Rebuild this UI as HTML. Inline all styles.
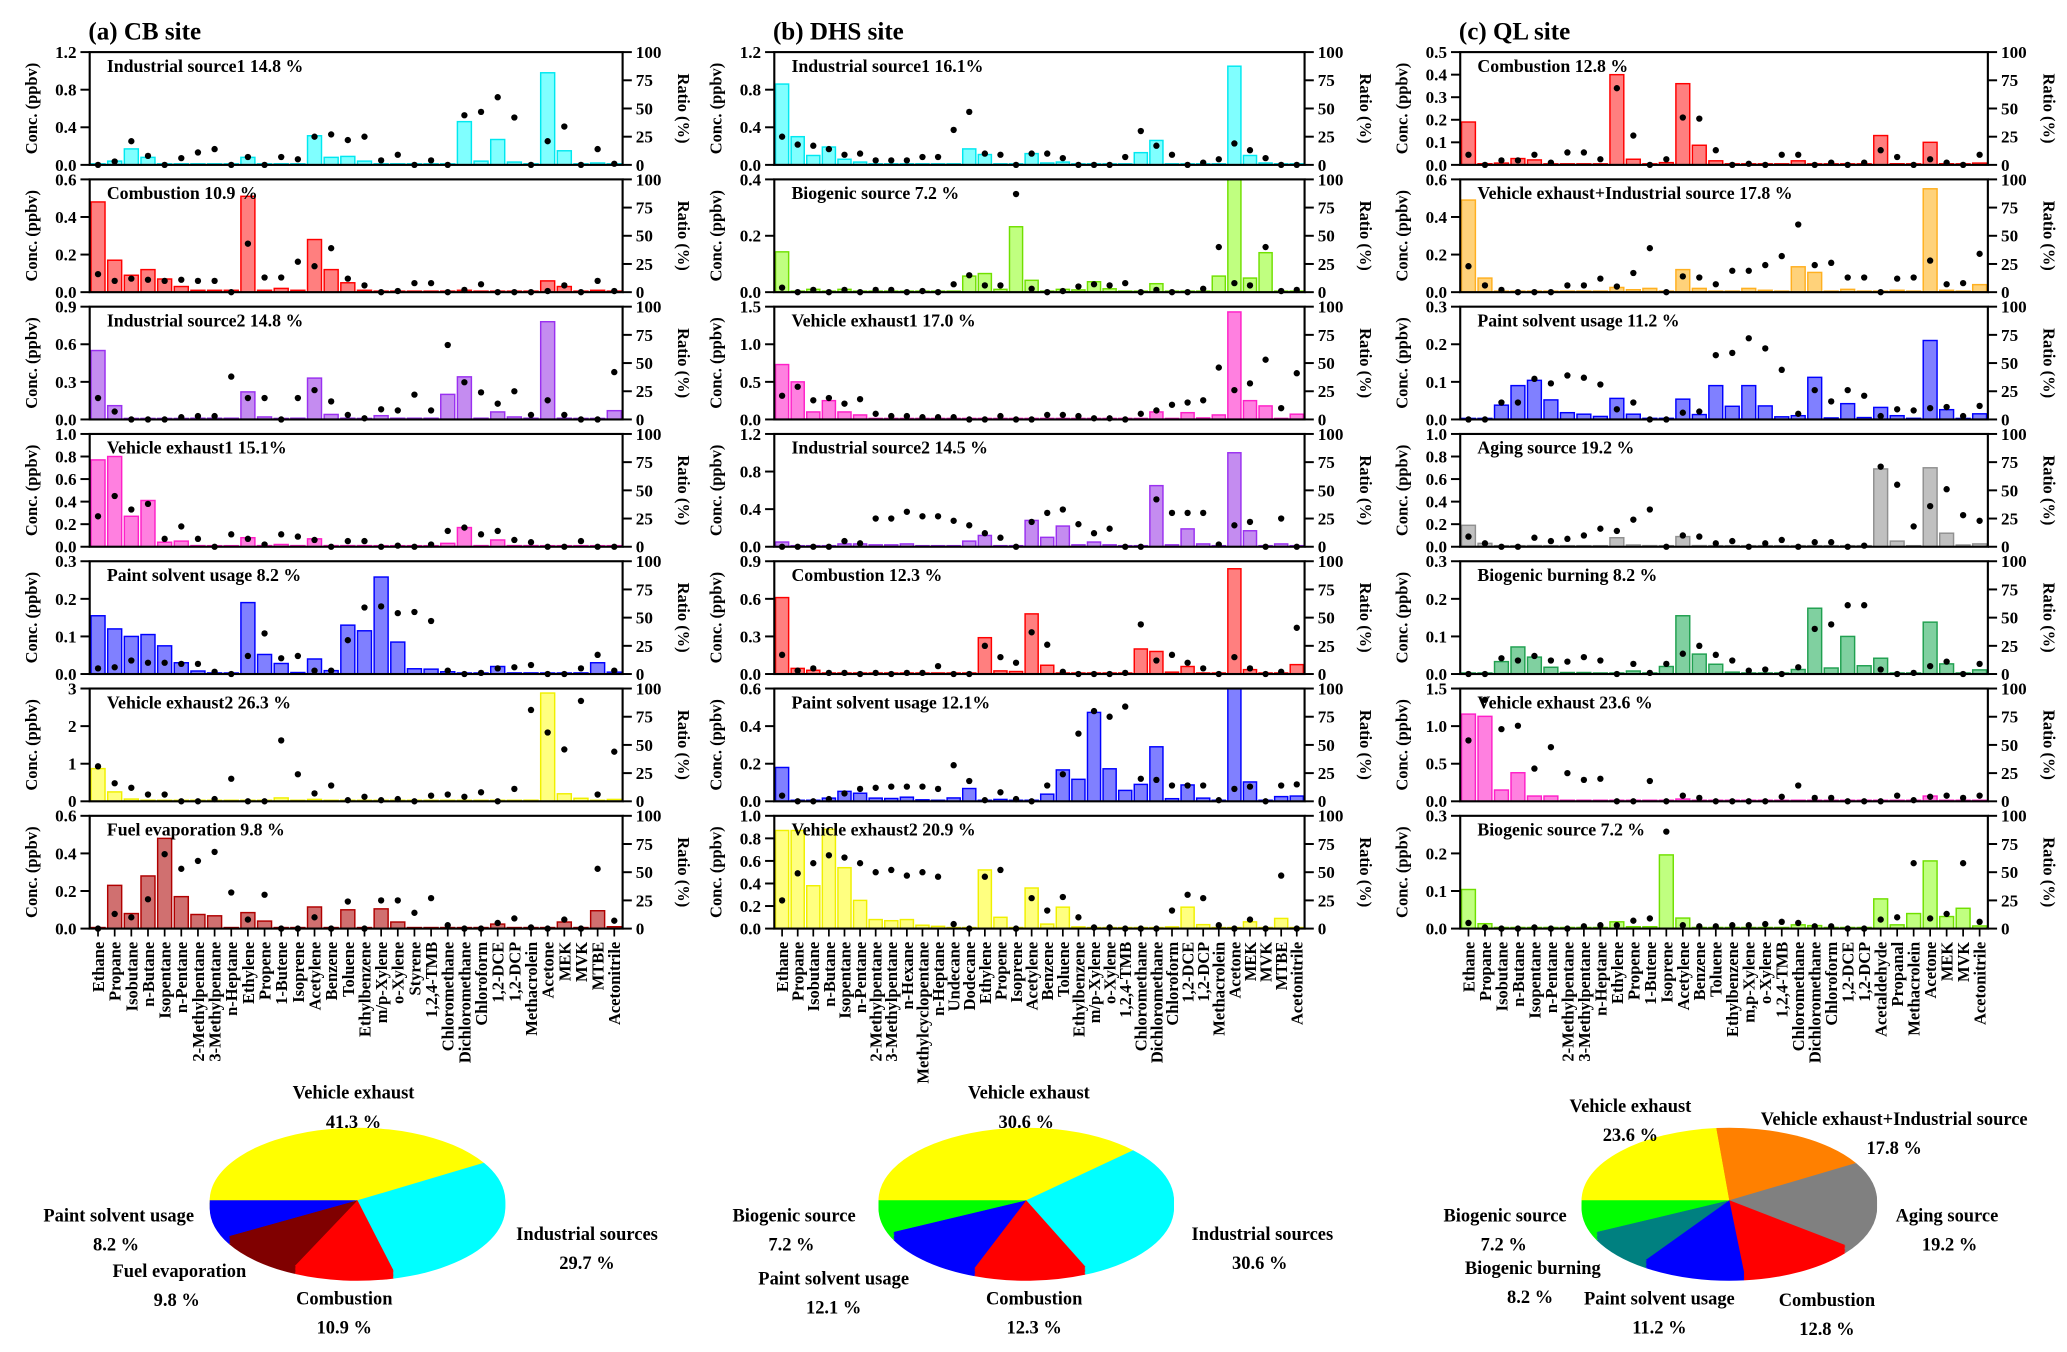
<!DOCTYPE html>
<html><head><meta charset="utf-8">
<style>
html,body{margin:0;padding:0;background:#fff;}
svg{display:block;font-family:"Liberation Serif","Times New Roman",serif;font-weight:bold;}
svg text{font-family:"Liberation Serif","Times New Roman",serif;font-weight:bold;}
</style></head>
<body>
<svg id="chart" width="2067" height="1352" viewBox="0 0 1567 1025" preserveAspectRatio="none" xmlns="http://www.w3.org/2000/svg" font-family="Liberation Serif, serif" font-weight="bold"></svg>
<script>
// ---------- categories ----------
const catsA = ["Ethane","Propane","Isobutane","n-Butane","Isopentane","n-Pentane","2-Methylpentane","3-Methylpentane","n-Heptane","Ethylene","Propene","1-Butene","Isoprene","Acetylene","Benzene","Toluene","Ethylbenzene","m/p-Xylene","o-Xylene","Styrene","1,2,4-TMB","Chloromethane","Dichloromethane","Chloroform","1,2-DCE","1,2-DCP","Methacrolein","Acetone","MEK","MVK","MTBE","Acetonitrile"];
const catsB = ["Ethane","Propane","Isobutane","n-Butane","Isopentane","n-Pentane","2-Methylpentane","3-Methylpentane","n-Hexane","Methylcyclopentane","n-Heptane","Undecane","Dodecane","Ethylene","Propene","Isoprene","Acetylene","Benzene","Toluene","Ethylbenzene","m/p-Xylene","o-Xylene","1,2,4-TMB","Chloromethane","Dichloromethane","Chloroform","1,2-DCE","1,2-DCP","Methacrolein","Acetone","MEK","MVK","MTBE","Acetonitrile"];
const catsC = ["Ethane","Propane","Isobutane","n-Butane","Isopentane","n-Pentane","2-Methylpentane","3-Methylpentane","n-Heptane","Ethylene","Propene","1-Butene","Isoprene","Acetylene","Benzene","Toluene","Ethylbenzene","m,p-Xylene","o-Xylene","1,2,4-TMB","Chloromethane","Dichloromethane","Chloroform","1,2-DCE","1,2-DCP","Acetaldehyde","Propanal","Methacrolein","Acetone","MEK","MVK","Acetonitrile"];

// ---------- site A series ----------
const a1Conc = [0.01,0.04,0.17,0.08,0.01,0.01,0.01,0.01,0.01,0.08,0.01,0.01,0.01,0.31,0.08,0.09,0.04,0.01,0.01,0.01,0.01,0.01,0.46,0.04,0.27,0.03,0.01,0.98,0.15,0.01,0.02,0.01];
const a1Ratio = [0,3,21,8,0,6,11,14,0,7,0,7,5,25,27,22,25,4,9,0,4,0,44,47,60,42,0,21,34,0,14,1];
const a2Conc = [0.48,0.17,0.09,0.12,0.07,0.03,0.01,0.01,0.01,0.51,0.01,0.02,0.01,0.28,0.12,0.05,0.01,0.002,0.002,0.002,0.002,0.002,0.01,0.002,0.002,0.002,0.002,0.06,0.03,0.002,0.01,0.002];
const a2Ratio = [16,10,12,11,10,11,10,10,0,43,13,13,27,23,39,12,6,0,1,8,8,0,2,7,0,0,0,1,6,0,10,1];
const a3Conc = [0.55,0.11,0.003,0.003,0.003,0.003,0.01,0.01,0.01,0.22,0.02,0.003,0.01,0.33,0.04,0.01,0.003,0.03,0.01,0.01,0.01,0.2,0.34,0.01,0.06,0.02,0.01,0.78,0.01,0.003,0.003,0.07];
const a3Ratio = [19,7,0,0,0,2,3,3,38,19,19,0,19,26,16,4,1,9,8,22,8,66,33,24,14,25,4,17,4,0,0,42];
const a4Conc = [0.77,0.8,0.27,0.41,0.04,0.05,0.01,0.003,0.003,0.08,0.01,0.02,0.01,0.07,0.01,0.01,0.01,0.003,0.003,0.003,0.003,0.03,0.17,0.01,0.06,0.01,0.01,0.003,0.003,0.003,0.003,0.003];
const a4Ratio = [27,45,33,38,7,18,7,0,11,7,2,11,9,6,0,5,5,0,1,0,2,14,17,11,14,6,4,0,0,5,0,0];
const a5Conc = [0.155,0.12,0.1,0.105,0.075,0.03,0.008,0.003,0.001,0.19,0.052,0.028,0.004,0.04,0.009,0.13,0.115,0.258,0.085,0.014,0.013,0.006,0.002,0.002,0.02,0.003,0.003,0.001,0.001,0.003,0.03,0.005];
const a5Ratio = [5,6,12,10,10,9,9,2,0,16,36,14,16,3,3,30,59,60,54,55,47,3,0,1,5,6,8,0,0,5,17,3];
const a6Conc = [0.87,0.25,0.06,0.03,0.01,0.01,0.01,0.01,0.01,0.01,0.01,0.09,0.01,0.05,0.01,0.01,0.01,0.01,0.01,0.01,0.01,0.01,0.01,0.01,0.01,0.01,0.03,2.88,0.2,0.08,0.01,0.05];
const a6Ratio = [31,16,12,6,6,0,0,2,20,0,0,54,24,7,14,1,4,1,2,0,5,6,4,8,0,11,81,61,46,89,6,44];
const a7Conc = [0.005,0.23,0.08,0.28,0.48,0.17,0.075,0.068,0.003,0.085,0.04,0.003,0.003,0.115,0.003,0.1,0.003,0.105,0.035,0.003,0.003,0.005,0.003,0.003,0.024,0.003,0.003,0.003,0.035,0.003,0.095,0.01];
const a7Ratio = [0,13,10,26,66,53,60,68,32,8,30,0,0,10,0,24,0,25,25,14,27,3,0,0,5,9,1,0,8,0,53,7];

// ---------- site B series ----------
const b1Conc = [0.86,0.3,0.1,0.19,0.06,0.03,0.01,0.01,0.01,0.01,0.01,0.01,0.17,0.11,0.01,0.003,0.12,0.02,0.03,0.005,0.005,0.005,0.005,0.13,0.26,0.01,0.005,0.005,0.01,1.05,0.1,0.02,0.005,0.005];
const b1Ratio = [25,18,17,14,9,10,4,4,4,7,7,31,47,10,9,0,10,10,6,0,0,0,7,30,17,9,0,2,5,19,13,6,0,0];
const b2Conc = [0.143,0.002,0.01,0.003,0.01,0.003,0.002,0.002,0.002,0.002,0.002,0.003,0.057,0.066,0.01,0.232,0.042,0.003,0.01,0.008,0.037,0.012,0.003,0.002,0.03,0.002,0.002,0.002,0.057,0.4,0.05,0.14,0.002,0.002];
const b2Ratio = [4,0,2,0,2,0,2,2,0,1,0,7,15,6,6,87,3,0,1,5,7,6,8,0,2,0,0,3,40,8,6,40,1,2];
const b3Conc = [0.73,0.5,0.1,0.25,0.1,0.06,0.01,0.005,0.005,0.005,0.005,0.005,0.005,0.005,0.005,0.005,0.01,0.01,0.01,0.005,0.005,0.005,0.005,0.005,0.1,0.005,0.09,0.02,0.06,1.43,0.25,0.18,0.01,0.07];
const b3Ratio = [21,29,17,19,14,18,5,3,3,2,2,2,0,0,3,0,0,4,4,3,1,1,0,5,8,13,15,17,46,26,32,53,10,41];
const b4Conc = [0.05,0.01,0.005,0.005,0.03,0.03,0.02,0.02,0.03,0.01,0.005,0.005,0.06,0.12,0.01,0.005,0.28,0.1,0.22,0.02,0.05,0.02,0.005,0.005,0.65,0.02,0.19,0.03,0.005,1.0,0.17,0.005,0.03,0.005];
const b4Ratio = [0,0,0,0,5,3,25,25,31,27,27,23,19,12,8,0,22,30,33,20,12,16,0,0,42,30,30,30,2,19,22,0,25,0];
const b5Conc = [0.61,0.045,0.03,0.005,0.005,0.005,0.005,0.005,0.005,0.005,0.005,0.005,0.005,0.29,0.025,0.02,0.48,0.07,0.005,0.005,0.005,0.005,0.005,0.2,0.18,0.015,0.06,0.005,0.005,0.84,0.035,0.005,0.005,0.075];
const b5Ratio = [17,3,5,1,1,0,1,0,1,1,7,0,0,25,15,10,37,26,2,0,0,0,1,44,12,17,10,5,0,15,5,0,2,41];
const b6Conc = [0.18,0.005,0.005,0.017,0.053,0.043,0.017,0.015,0.022,0.008,0.005,0.018,0.068,0.005,0.01,0.005,0.003,0.038,0.167,0.117,0.473,0.173,0.058,0.09,0.29,0.014,0.087,0.017,0.005,0.6,0.103,0.005,0.025,0.028];
const b6Ratio = [5,0,0,2,7,11,12,13,13,13,11,32,18,1,8,2,0,14,24,60,80,75,84,20,19,14,14,14,1,11,13,0,14,15];
const b7Conc = [0.87,0.87,0.38,0.88,0.54,0.25,0.08,0.07,0.08,0.03,0.02,0.005,0.003,0.52,0.1,0.003,0.36,0.04,0.19,0.015,0.005,0.005,0.005,0.005,0.005,0.015,0.19,0.035,0.005,0.005,0.06,0.005,0.09,0.003];
const b7Ratio = [25,49,58,65,63,58,50,52,47,50,46,4,0,46,52,0,27,16,28,10,1,1,0,0,0,16,30,27,3,0,8,0,47,0];

// ---------- site C series ----------
const c1Conc = [0.19,0.005,0.008,0.028,0.022,0.003,0.003,0.003,0.003,0.4,0.025,0.003,0.01,0.36,0.087,0.018,0.003,0.003,0.003,0.003,0.018,0.003,0.003,0.003,0.003,0.13,0.005,0.003,0.1,0.005,0.003,0.008];
const c1Ratio = [9,0,4,4,9,2,11,11,5,68,26,0,5,42,41,13,0,1,0,9,9,0,2,0,2,13,7,0,5,2,0,9];
const c2Conc = [0.49,0.075,0.003,0.003,0.003,0.003,0.005,0.003,0.003,0.025,0.013,0.02,0.003,0.12,0.02,0.005,0.005,0.02,0.01,0.003,0.135,0.105,0.005,0.015,0.003,0.003,0.01,0.005,0.55,0.01,0.003,0.04];
const c2Ratio = [23,6,2,0,0,0,6,6,12,5,17,39,0,14,13,7,19,19,24,32,60,24,26,13,13,0,12,13,28,7,8,34];
const c3Conc = [0.002,0.002,0.038,0.09,0.104,0.052,0.018,0.014,0.008,0.056,0.014,0.003,0.003,0.054,0.013,0.09,0.035,0.09,0.036,0.007,0.01,0.112,0.004,0.042,0.005,0.032,0.01,0.003,0.21,0.026,0.002,0.015];
const c3Ratio = [0,0,15,15,36,32,39,37,31,9,15,0,0,6,7,57,59,72,63,44,5,26,16,26,21,3,9,8,10,11,3,12];
const c4Conc = [0.19,0.03,0.005,0.005,0.01,0.005,0.005,0.005,0.005,0.08,0.015,0.01,0.003,0.09,0.01,0.005,0.005,0.005,0.005,0.005,0.005,0.005,0.005,0.005,0.005,0.69,0.05,0.003,0.7,0.12,0.015,0.025];
const c4Ratio = [9,3,0,0,8,5,7,10,16,14,24,33,0,10,9,3,5,0,3,6,0,4,4,0,1,71,55,18,36,51,28,23];
const c5Conc = [0.002,0.002,0.033,0.072,0.045,0.018,0.004,0.004,0.002,0.002,0.008,0.002,0.02,0.155,0.053,0.026,0.005,0.002,0.002,0.002,0.012,0.175,0.016,0.1,0.022,0.042,0.002,0.002,0.138,0.027,0.002,0.011];
const c5Ratio = [0,0,14,12,16,12,11,15,12,0,9,1,9,18,25,17,12,3,4,0,6,40,44,61,61,4,0,1,7,11,0,9];
const c6Conc = [1.16,1.13,0.15,0.38,0.07,0.07,0.005,0.005,0.005,0.005,0.005,0.005,0.005,0.03,0.005,0.005,0.005,0.005,0.005,0.005,0.01,0.005,0.005,0.005,0.005,0.005,0.005,0.005,0.07,0.005,0.005,0.005];
const c6Ratio = [54,90,64,67,29,48,25,19,20,0,0,18,0,5,3,0,0,0,0,4,14,3,3,0,0,0,5,1,4,5,3,5];
const c7Conc = [0.104,0.013,0.003,0.003,0.003,0.003,0.003,0.003,0.003,0.018,0.005,0.005,0.196,0.028,0.003,0.003,0.003,0.003,0.003,0.003,0.01,0.008,0.003,0.003,0.003,0.079,0.01,0.04,0.18,0.032,0.054,0.007];
const c7Ratio = [5,1,0,0,1,0,0,2,3,3,7,9,86,3,2,2,3,3,4,6,5,2,2,0,0,8,10,58,9,13,58,6];

// ---------- panel titles / axis ticks ----------
const titlesA = ["Industrial source1 14.8 %","Combustion 10.9 %","Industrial source2 14.8 %","Vehicle exhaust1 15.1%","Paint solvent usage 8.2 %","Vehicle exhaust2 26.3 %","Fuel evaporation 9.8 %"];
const titlesB = ["Industrial source1 16.1%","Biogenic source 7.2 %","Vehicle exhaust1 17.0 %","Industrial source2 14.5 %","Combustion 12.3 %","Paint solvent usage 12.1%","Vehicle exhaust2 20.9 %"];
const titlesC = ["Combustion 12.8 %","Vehicle exhaust+Industrial source 17.8 %","Paint solvent usage 11.2 %","Aging source 19.2 %","Biogenic burning 8.2 %","Vehicle exhaust 23.6 %","Biogenic source 7.2 %"];
const ticksA = [["0.0","0.4","0.8","1.2"],["0.0","0.2","0.4","0.6"],["0.0","0.3","0.6","0.9"],["0.0","0.2","0.4","0.6","0.8","1.0"],["0.0","0.1","0.2","0.3"],["0","1","2","3"],["0.0","0.2","0.4","0.6"]];
const ticksB = [["0.0","0.4","0.8","1.2"],["0.0","0.2","0.4"],["0.0","0.5","1.0","1.5"],["0.0","0.4","0.8","1.2"],["0.0","0.3","0.6","0.9"],["0.0","0.2","0.4","0.6"],["0.0","0.2","0.4","0.6","0.8","1.0"]];
const ticksC = [["0.0","0.1","0.2","0.3","0.4","0.5"],["0.0","0.2","0.4","0.6"],["0.0","0.1","0.2","0.3"],["0.0","0.2","0.4","0.6","0.8","1.0"],["0.0","0.1","0.2","0.3"],["0.0","0.5","1.0","1.5"],["0.0","0.1","0.2","0.3"]];
const ratioTicks = ["0","25","50","75","100"];

// ---------- pies ----------
const pieAPct = [41.3,29.7,10.9,9.8,8.2];
const pieBPct = [37.9,30.6,12.3,12.1,7.2];
const pieCPct = [23.6,17.8,19.2,12.8,11.2,8.2,7.2];

// ---------- styles ----------
const FONT = "Liberation Serif, Times New Roman, serif";
const PAL = {
  cyan:["#80ffff","#00e8f0"], red:["#ff7f7f","#ff0000"], purple:["#c48cf0","#9a30f0"], magenta:["#ff80e0","#ff20c8"],
  blue:["#8080ff","#0000ff"], yellow:["#ffff80","#f0f000"], darkred:["#d07070","#b00000"], lgreen:["#c0ff80","#70e000"],
  orange:["#ffd27a","#ffb020"], gray:["#c0c0c0","#909090"], green:["#80d0a0","#20a050"]
};
const seriesA = [[a1Conc,a1Ratio,"cyan"],[a2Conc,a2Ratio,"red"],[a3Conc,a3Ratio,"purple"],[a4Conc,a4Ratio,"magenta"],[a5Conc,a5Ratio,"blue"],[a6Conc,a6Ratio,"yellow"],[a7Conc,a7Ratio,"darkred"]];
const seriesB = [[b1Conc,b1Ratio,"cyan"],[b2Conc,b2Ratio,"lgreen"],[b3Conc,b3Ratio,"magenta"],[b4Conc,b4Ratio,"purple"],[b5Conc,b5Ratio,"red"],[b6Conc,b6Ratio,"blue"],[b7Conc,b7Ratio,"yellow"]];
const seriesC = [[c1Conc,c1Ratio,"red"],[c2Conc,c2Ratio,"orange"],[c3Conc,c3Ratio,"blue"],[c4Conc,c4Ratio,"gray"],[c5Conc,c5Ratio,"green"],[c6Conc,c6Ratio,"magenta"],[c7Conc,c7Ratio,"lgreen"]];

const NS = "http://www.w3.org/2000/svg";
const svg = document.getElementById('chart');
function el(tag, parent){ const e=document.createElementNS(NS,tag); parent.appendChild(e); return e; }
function txt(parent, x, y, s, size, anchor){
  const t=el('text',parent); t.setAttribute('x',x); t.setAttribute('y',y);
  t.setAttribute('font-size',size); t.setAttribute('text-anchor',anchor||'start');
  t.setAttribute('font-family',FONT); t.setAttribute('font-weight','bold');
  t.textContent=s; return t;
}

const PTOP=39.5, PSTEP=96.5, PH=85.5;
function drawSite(key, x0, x1, cats, series, titles, ticks, siteTitle){
  const g=el('g',svg);
  
  
  const st=txt(g,x0-1,30,siteTitle,19,'start');
  
  
  const N=cats.length, band=(x1-x0)/N;
  const xc=i=>x0+band*(i+0.5);
  series.forEach((s,p)=>{
    const conc=s[0], ratio=s[1], pal=PAL[s[2]];
    const top=PTOP+PSTEP*p, bot=top+PH;
    const tk=ticks[p], ymax=parseFloat(tk[tk.length-1]);
    const yS=v=>bot-v/ymax*PH;
    const yR=v=>bot-v/100*PH;
    const pg=el('g',g);
    
    
    conc.forEach((v,i)=>{
      const r=el('rect',pg);
      const w=band*0.84, y=Math.min(yS(v),bot-0.8);
      r.setAttribute('x',xc(i)-w/2); r.setAttribute('y',y);
      r.setAttribute('width',w); r.setAttribute('height',bot-y);
      r.setAttribute('fill',pal[0]); r.setAttribute('stroke',pal[1]); r.setAttribute('stroke-width','1.1');
      
      
    });
    ratio.forEach((v,i)=>{
      const c=el('circle',pg);
      c.setAttribute('cx',xc(i)); c.setAttribute('cy',yR(v)); c.setAttribute('r',2.4); c.setAttribute('fill','#000');
      
      
    });
    const fr=el('rect',pg);
    fr.setAttribute('x',x0); fr.setAttribute('y',top); fr.setAttribute('width',x1-x0); fr.setAttribute('height',PH);
    fr.setAttribute('fill','none'); fr.setAttribute('stroke','#000'); fr.setAttribute('stroke-width','1.6');
    
    
    tk.forEach(l=>{
      const v=parseFloat(l), y=yS(v);
      const ln=el('line',pg); ln.setAttribute('x1',x0-7); ln.setAttribute('x2',x0); ln.setAttribute('y1',y); ln.setAttribute('y2',y);
      ln.setAttribute('stroke','#000'); ln.setAttribute('stroke-width','1.5');
      const t=txt(pg,x0-10,y+4.5,l,13,'end');
      
      
    });
    ratioTicks.forEach(l=>{
      const y=yR(parseFloat(l));
      const ln=el('line',pg); ln.setAttribute('x1',x1); ln.setAttribute('x2',x1+7); ln.setAttribute('y1',y); ln.setAttribute('y2',y);
      ln.setAttribute('stroke','#000'); ln.setAttribute('stroke-width','1.5');
      const t=txt(pg,x1+10,y+4.5,l,13,'start');
      
      
    });
    const cy=top+PH/2;
    const yt=txt(pg,0,0,'Conc. (ppbv)',12.5,'middle');
    yt.setAttribute('transform','translate('+(x0-40)+','+cy+') rotate(-90)');
    
    
    const rt=txt(pg,0,0,'Ratio (%)',12.5,'middle');
    rt.setAttribute('transform','translate('+(x1+42)+','+cy+') rotate(90)');
    
    
    const pt=txt(pg,x0+13,top+15,titles[p],13.5,'start');
    
    
    if(p===series.length-1){
      cats.forEach((c,i)=>{
        const ln=el('line',pg); ln.setAttribute('x1',xc(i)); ln.setAttribute('x2',xc(i)); ln.setAttribute('y1',bot); ln.setAttribute('y2',bot+6);
        ln.setAttribute('stroke','#000'); ln.setAttribute('stroke-width','1.3');
        const t=txt(pg,0,0,c,12.5,'end');
        t.setAttribute('transform','translate('+(xc(i)+4.5)+','+(bot+10)+') rotate(-90)');
        
        
      });
    }
  });
}
drawSite('a',68,472,catsA,seriesA,titlesA,ticksA,'(a) CB site');
drawSite('b',587,989,catsB,seriesB,titlesB,ticksB,'(b) DHS site');
drawSite('c',1107,1507,catsC,seriesC,titlesC,ticksC,'(c) QL site');

// ---------- pies ----------
function drawPie(key,cx,cy,pct,colors){
  const g=el('g',svg);
  
  
  const rx=112, ry=55, depth=6;
  const tot=pct.reduce((a,b)=>a+b,0);
  const wedge=(a0,a1,dy)=>{
    const p0=[cx+rx*Math.cos(a0),cy+dy+ry*Math.sin(a0)], p1=[cx+rx*Math.cos(a1),cy+dy+ry*Math.sin(a1)];
    const large=(a1-a0)>Math.PI?1:0;
    return 'M'+cx+','+(cy+dy)+' L'+p0[0]+','+p0[1]+' A'+rx+','+ry+' 0 '+large+' 1 '+p1[0]+','+p1[1]+' Z';
  };
  for(let d=depth; d>=0; d-=1){
    let a=Math.PI;
    pct.forEach((v,i)=>{
      const a1=a+v/tot*2*Math.PI;
      const p=el('path',g); p.setAttribute('d',wedge(a,a1,d)); p.setAttribute('fill',colors[i]);
      if(d===0){
        
        
      }
      a=a1;
    });
  }
}
drawPie('a',271,910,pieAPct,["#ffff00","#00ffff","#ff0000","#800000","#0000ff"]);
drawPie('b',778,910,pieBPct,["#ffff00","#00ffff","#ff0000","#0000ff","#00ff00"]);
drawPie('c',1311,910,pieCPct,["#ffff00","#ff8000","#808080","#ff0000","#0000ff","#008080","#00ff00"]);

const pieLabels = [
 ["Vehicle exhaust",268,833],["41.3 %",268,855],["Paint solvent usage",90,926],["8.2 %",88,948],["Fuel evaporation",136,968],["9.8 %",134,990],["Combustion",261,989],["10.9 %",261,1011],["Industrial sources",445,940],["29.7 %",445,962],
 ["Vehicle exhaust",780,833],["30.6 %",778,855],["Biogenic source",602,926],["7.2 %",600,948],["Paint solvent usage",632,974],["12.1 %",632,996],["Combustion",784,989],["12.3 %",784,1011],["Industrial sources",957,940],["30.6 %",955,962],
 ["Vehicle exhaust",1236,843],["23.6 %",1236,865],["Vehicle exhaust+Industrial source",1436,853],["17.8 %",1436,875],["Aging source",1476,926],["19.2 %",1478,948],["Biogenic source",1141,926],["7.2 %",1140,948],["Biogenic burning",1162,966],["8.2 %",1160,988],["Paint solvent usage",1258,989],["11.2 %",1258,1011],["Combustion",1385,990],["12.8 %",1385,1012]
];
pieLabels.forEach(l=>{
  const t=txt(svg,l[1],l[2],l[0],14,'middle');
  
  
});
</script>
</body></html>
